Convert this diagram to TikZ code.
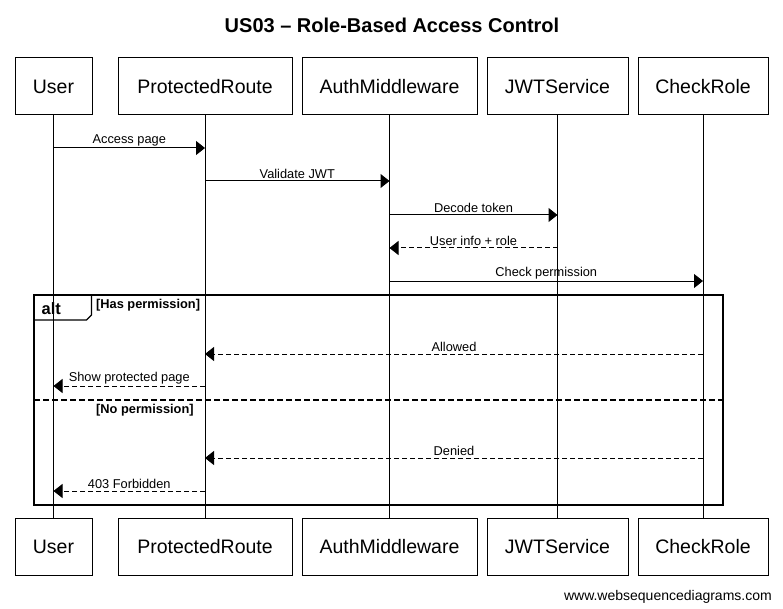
\documentclass[tikz,border=0pt]{standalone}
\usepackage{fontspec}
\setmainfont{Liberation Sans}
\usetikzlibrary{arrows.meta}
\begin{document}
\begin{tikzpicture}[x=1pt,y=-1pt,
  part/.style={draw,line width=1pt,minimum height=57pt,inner sep=0pt,font=\fontsize{19.5}{22}\selectfont},
  life/.style={line width=1pt},
  msg/.style={line width=1pt,-{Triangle[length=9pt,width=14pt]}},
  ret/.style={msg,dash pattern=on 5pt off 3pt},
  lbl/.style={above=1.5pt,inner sep=0pt,font=\fontsize{12.8}{14}\selectfont},
  frm/.style={line width=1.6pt},
  guard/.style={anchor=west,inner sep=0pt,font=\bfseries\fontsize{12.8}{14}\selectfont}]
\useasboundingbox[fill=white] (0,0) rectangle (783,609);
\node[font=\bfseries\fontsize{20}{24}\selectfont] (title) at (392,25) {US03 – Role-Based Access Control};
% participants top
\node[part,minimum width=77pt]  (ut) at (53.5,86.5) {User};
\node[part,minimum width=174pt] (pt) at (205,86.5) {ProtectedRoute};
\node[part,minimum width=175pt] (at) at (389.5,86.5) {AuthMiddleware};
\node[part,minimum width=141pt] (jt) at (557.5,86.5) {JWTService};
\node[part,minimum width=130pt] (ct) at (703,86.5) {CheckRole};
% participants bottom
\node[part,minimum width=77pt]  (ub) at (53.5,546.5) {User};
\node[part,minimum width=174pt] (pb) at (205,546.5) {ProtectedRoute};
\node[part,minimum width=175pt] (ab) at (389.5,546.5) {AuthMiddleware};
\node[part,minimum width=141pt] (jb) at (557.5,546.5) {JWTService};
\node[part,minimum width=130pt] (cb) at (703,546.5) {CheckRole};
% lifelines
\draw[life] (ut) -- (ub);
\draw[life] (pt) -- (pb);
\draw[life] (at) -- (ab);
\draw[life] (jt) -- (jb);
\draw[life] (ct) -- (cb);
% messages
\draw[msg] (ut.south |- 0,148) -- node[lbl]{Access page} (pt.south |- 0,148);
\draw[msg] (pt.south |- 0,181) -- node[lbl]{Validate JWT} (at.south |- 0,181);
\draw[msg] (at.south |- 0,215) -- node[lbl]{Decode token} (jt.south |- 0,215);
\draw[ret] (jt.south |- 0,248) -- node[lbl]{User info + role} (at.south |- 0,248);
\draw[msg] (at.south |- 0,281) -- node[lbl]{Check permission} (ct.south |- 0,281);
% alt frame
\draw[frm] (34,295) rectangle (723,505);
\draw[line width=1.2pt] (34,320) -- (86.5,320) -- (91.5,315) -- (91.5,295);
\node[anchor=west,inner sep=0pt,font=\bfseries\fontsize{16.5}{18}\selectfont] (alt) at (41.5,309) {alt};
\node[guard] (g1) at (96,305.5) {[Has permission]};
\draw[ret] (ct.south |- 0,354) -- node[lbl]{Allowed} (pt.south |- 0,354);
\draw[ret] (pt.south |- 0,386) -- node[lbl]{Show protected page} (ut.south |- 0,386);
\draw[frm,dash pattern=on 6pt off 3pt] (34,400) -- (723,400);
\node[guard] (g2) at (96,410.5) {[No permission]};
\draw[ret] (ct.south |- 0,458) -- node[lbl]{Denied} (pt.south |- 0,458);
\draw[ret] (pt.south |- 0,491) -- node[lbl]{403 Forbidden} (ut.south |- 0,491);
% footer
\node[anchor=east,inner sep=0pt,font=\fontsize{14}{16}\selectfont] (foot) at (772,596.5) {www.websequencediagrams.com};
\end{tikzpicture}
\end{document}
